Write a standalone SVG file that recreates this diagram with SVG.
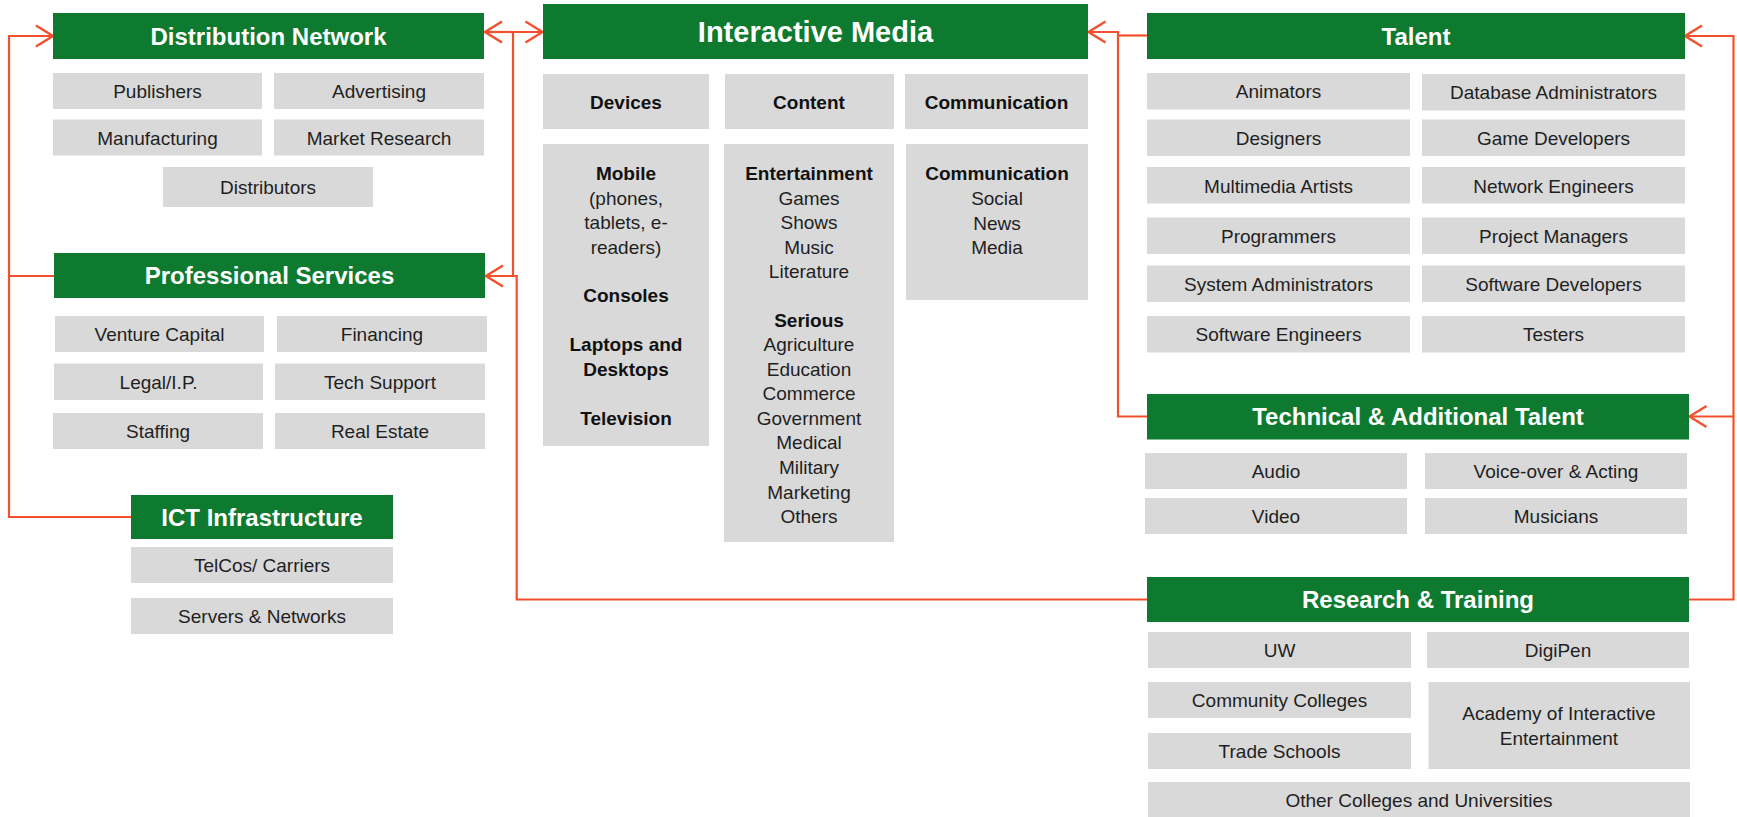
<svg xmlns="http://www.w3.org/2000/svg" width="1737" height="817" viewBox="0 0 1737 817">
<defs>
<style>
.hdr{fill:#0E7A2F}
.box{fill:#D9D9D9}
.ht{font-family:"Liberation Sans",Arial,sans-serif;font-weight:bold;font-size:24px;fill:#FFFFFF;text-anchor:middle}
.bt{font-family:"Liberation Sans",Arial,sans-serif;font-size:19px;fill:#1F1F1F;text-anchor:middle}
.bb{font-family:"Liberation Sans",Arial,sans-serif;font-size:19px;font-weight:bold;fill:#111111;text-anchor:middle}
.con{fill:none;stroke:#F5502E;stroke-width:2.2}
</style>
<marker id="arr" viewBox="-20 -13 22 26" refX="0" refY="0" markerWidth="22" markerHeight="26" markerUnits="userSpaceOnUse" orient="auto">
<path d="M -17 -10.5 L 0 0 L -17 10.5" fill="none" stroke="#F5502E" stroke-width="2.4"/>
</marker>
</defs>
<rect width="1737" height="817" fill="#FFFFFF"/>

<g id="connectors">
<path class="con" d="M 131 517 H 9 V 36 H 53" marker-end="url(#arr)"/>
<path class="con" d="M 54 276 H 9"/>
<path class="con" d="M 1147 599.5 H 516.7 V 276 H 486" marker-end="url(#arr)"/>
<path class="con" d="M 513 276 V 32 H 542.5" marker-end="url(#arr)"/>
<path class="con" d="M 513 32 H 485" marker-end="url(#arr)"/>
<path class="con" d="M 1147 416.5 H 1118 V 32 H 1088.5" marker-end="url(#arr)"/>
<path class="con" d="M 1147 35.5 H 1118"/>
<path class="con" d="M 1689 599.5 H 1733.5 V 36 H 1685" marker-end="url(#arr)"/>
<path class="con" d="M 1733.5 416.5 H 1689.5" marker-end="url(#arr)"/>
</g>

<g id="distribution-network">
<rect class="hdr" x="53" y="13" width="431" height="46"/>
<text class="ht" x="268.5" y="45">Distribution Network</text>
<rect class="box" x="53" y="73" width="209" height="36"/>
<text class="bt" x="157.5" y="98">Publishers</text>
<rect class="box" x="274" y="73" width="210" height="36"/>
<text class="bt" x="379" y="98">Advertising</text>
<rect class="box" x="53" y="119.5" width="209" height="36"/>
<text class="bt" x="157.5" y="144.5">Manufacturing</text>
<rect class="box" x="274" y="119.5" width="210" height="36"/>
<text class="bt" x="379" y="144.5">Market Research</text>
<rect class="box" x="163" y="167" width="210" height="40"/>
<text class="bt" x="268" y="194">Distributors</text>
</g>

<g id="professional-services">
<rect class="hdr" x="54" y="253" width="431" height="45"/>
<text class="ht" x="269.5" y="284">Professional Services</text>
<rect class="box" x="55" y="316" width="209" height="36"/>
<text class="bt" x="159.5" y="341">Venture Capital</text>
<rect class="box" x="277" y="316" width="210" height="36"/>
<text class="bt" x="382" y="341">Financing</text>
<rect class="box" x="54" y="363.5" width="209" height="36.5"/>
<text class="bt" x="158.5" y="389">Legal/I.P.</text>
<rect class="box" x="275" y="363.5" width="210" height="36.5"/>
<text class="bt" x="380" y="389">Tech Support</text>
<rect class="box" x="53" y="413" width="210" height="36"/>
<text class="bt" x="158" y="438">Staffing</text>
<rect class="box" x="275" y="413" width="210" height="36"/>
<text class="bt" x="380" y="438">Real Estate</text>
</g>

<g id="ict-infrastructure">
<rect class="hdr" x="131" y="495" width="262" height="44"/>
<text class="ht" x="262" y="525.5">ICT Infrastructure</text>
<rect class="box" x="131" y="547" width="262" height="36"/>
<text class="bt" x="262" y="572">TelCos/ Carriers</text>
<rect class="box" x="131" y="598" width="262" height="36"/>
<text class="bt" x="262" y="623">Servers &amp; Networks</text>
</g>

<g id="interactive-media">
<rect class="hdr" x="543" y="4" width="545" height="55"/>
<text class="ht" x="815.5" y="42" style="font-size:29px">Interactive Media</text>
<rect class="box" x="543" y="74" width="166" height="55"/>
<text class="bb" x="626" y="109">Devices</text>
<rect class="box" x="725" y="74" width="169" height="55"/>
<text class="bb" x="809" y="109">Content</text>
<rect class="box" x="905" y="74" width="183" height="55"/>
<text class="bb" x="996.5" y="109">Communication</text>

<rect class="box" x="543" y="144" width="166" height="302"/>
<text class="bb" x="626" y="179.5">Mobile</text>
<text class="bt" x="626" y="204.5">(phones,</text>
<text class="bt" x="626" y="228.5">tablets,  e-</text>
<text class="bt" x="626" y="253.5">readers)</text>
<text class="bb" x="626" y="302">Consoles</text>
<text class="bb" x="626" y="351">Laptops and</text>
<text class="bb" x="626" y="376">Desktops</text>
<text class="bb" x="626" y="424.5">Television</text>

<rect class="box" x="724" y="144" width="170" height="398"/>
<text class="bb" x="809" y="179.5">Entertainment</text>
<text class="bt" x="809" y="204.5">Games</text>
<text class="bt" x="809" y="228.5">Shows</text>
<text class="bt" x="809" y="253.5">Music</text>
<text class="bt" x="809" y="277.5">Literature</text>
<text class="bb" x="809" y="327">Serious</text>
<text class="bt" x="809" y="351">Agriculture</text>
<text class="bt" x="809" y="376">Education</text>
<text class="bt" x="809" y="400">Commerce</text>
<text class="bt" x="809" y="424.5">Government</text>
<text class="bt" x="809" y="449">Medical</text>
<text class="bt" x="809" y="473.5">Military</text>
<text class="bt" x="809" y="498.5">Marketing</text>
<text class="bt" x="809" y="522.5">Others</text>

<rect class="box" x="906" y="144" width="182" height="156"/>
<text class="bb" x="997" y="180">Communication</text>
<text class="bt" x="997" y="205">Social</text>
<text class="bt" x="997" y="229.5">News</text>
<text class="bt" x="997" y="254">Media</text>
</g>

<g id="talent">
<rect class="hdr" x="1147" y="13" width="538" height="46"/>
<text class="ht" x="1416" y="45">Talent</text>
<rect class="box" x="1147" y="73" width="263" height="36.5"/>
<text class="bt" x="1278.5" y="98">Animators</text>
<rect class="box" x="1422" y="74" width="263" height="36.5"/>
<text class="bt" x="1553.5" y="99">Database  Administrators</text>
<rect class="box" x="1147" y="119.5" width="263" height="36.5"/>
<text class="bt" x="1278.5" y="145">Designers</text>
<rect class="box" x="1422" y="119.5" width="263" height="36.5"/>
<text class="bt" x="1553.5" y="145">Game  Developers</text>
<rect class="box" x="1147" y="167" width="263" height="36.5"/>
<text class="bt" x="1278.5" y="192.5">Multimedia  Artists</text>
<rect class="box" x="1422" y="167" width="263" height="36.5"/>
<text class="bt" x="1553.5" y="192.5">Network  Engineers</text>
<rect class="box" x="1147" y="217.5" width="263" height="36.5"/>
<text class="bt" x="1278.5" y="243">Programmers</text>
<rect class="box" x="1422" y="217.5" width="263" height="36.5"/>
<text class="bt" x="1553.5" y="243">Project Managers</text>
<rect class="box" x="1147" y="265.5" width="263" height="36.5"/>
<text class="bt" x="1278.5" y="291">System Administrators</text>
<rect class="box" x="1422" y="265.5" width="263" height="36.5"/>
<text class="bt" x="1553.5" y="291">Software  Developers</text>
<rect class="box" x="1147" y="316" width="263" height="36.5"/>
<text class="bt" x="1278.5" y="341">Software  Engineers</text>
<rect class="box" x="1422" y="316" width="263" height="36.5"/>
<text class="bt" x="1553.5" y="341">Testers</text>
</g>

<g id="technical-additional-talent">
<rect class="hdr" x="1147" y="394" width="542" height="45.5"/>
<text class="ht" x="1418" y="425">Technical &amp; Additional  Talent</text>
<rect class="box" x="1145" y="453" width="262" height="36"/>
<text class="bt" x="1276" y="478">Audio</text>
<rect class="box" x="1425" y="453" width="262" height="36"/>
<text class="bt" x="1556" y="478">Voice-over &amp; Acting</text>
<rect class="box" x="1145" y="498" width="262" height="36"/>
<text class="bt" x="1276" y="523">Video</text>
<rect class="box" x="1425" y="498" width="262" height="36"/>
<text class="bt" x="1556" y="523">Musicians</text>
</g>

<g id="research-training">
<rect class="hdr" x="1147" y="577" width="542" height="45"/>
<text class="ht" x="1418" y="608">Research &amp; Training</text>
<rect class="box" x="1148" y="632" width="263" height="36"/>
<text class="bt" x="1279.5" y="657">UW</text>
<rect class="box" x="1427" y="632" width="262" height="36"/>
<text class="bt" x="1558" y="657">DigiPen</text>
<rect class="box" x="1148" y="682" width="263" height="36"/>
<text class="bt" x="1279.5" y="707">Community  Colleges</text>
<rect class="box" x="1148" y="733" width="263" height="36"/>
<text class="bt" x="1279.5" y="758">Trade Schools</text>
<rect class="box" x="1428.5" y="682" width="261.5" height="87"/>
<text class="bt" x="1559" y="720">Academy of Interactive</text>
<text class="bt" x="1559" y="745">Entertainment</text>
<rect class="box" x="1148" y="782" width="542" height="36"/>
<text class="bt" x="1419" y="807">Other Colleges and Universities</text>
</g>
</svg>
